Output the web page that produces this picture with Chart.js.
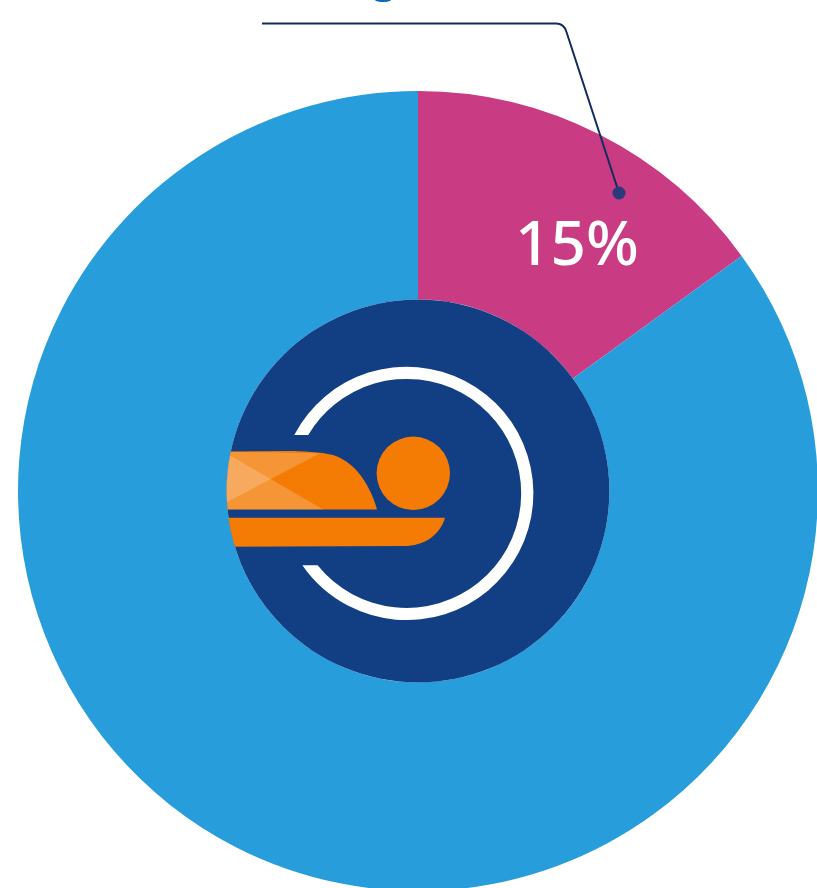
<!DOCTYPE html>
<html>
<head>
<meta charset="utf-8">
<style>
  html, body { margin: 0; padding: 0; background: #fff; overflow: hidden; }
  #frame { position: relative; width: 817px; height: 888px; overflow: hidden; }
  canvas { position: absolute; left: 0; top: 0; }
</style>
<script src="https://cdn.jsdelivr.net/npm/chart.js@4"></script>
</head>
<body>
<div id="frame"><canvas id="ring" width="836" height="982"></canvas></div>
<script>
const categories = ["Highlighted share", "Remaining share"];
const shareValues = [15, 85];
const sliceColours = ["#c93b82", "#289ddb"];

// Hub disc, scanner icon and the callout, all placed relative to the ring centre.
const hubAndCallout = {
  id: "hubAndCallout",
  afterDatasetsDraw(chart) {
    const arc = chart.getDatasetMeta(0).data[0];
    const ctx = chart.ctx;
    const hubRadius = arc.innerRadius;
    ctx.save();
    ctx.translate(arc.x, arc.y);

    // Hub disc
    ctx.fillStyle = "#123e84";
    ctx.beginPath();
    ctx.arc(0, 0, hubRadius, 0, Math.PI * 2);
    ctx.fill();

    // Scanner ring, open on the left with flat horizontal ends
    const cx = -11.3, cy = 2.4, rOut = 126.7, rIn = 114.5;
    const topCut = -56, bottomCut = 74.3;
    const edge = (r, y) => Math.atan2(y - cy, -Math.sqrt(r * r - (y - cy) * (y - cy)));
    ctx.fillStyle = "#ffffff";
    ctx.beginPath();
    ctx.arc(cx, cy, rOut, edge(rOut, topCut), edge(rOut, bottomCut), false);
    ctx.arc(cx, cy, rIn, edge(rIn, bottomCut), edge(rIn, topCut), true);
    ctx.closePath();
    ctx.fill();

    // Patient and table are cropped by the hub edge
    ctx.save();
    ctx.beginPath();
    ctx.arc(0, 0, hubRadius, 0, Math.PI * 2);
    ctx.clip();

    ctx.fillStyle = "#f47b04";
    ctx.beginPath();
    ctx.arc(-4.7, -17.7, 36.7, 0, Math.PI * 2);
    ctx.fill();

    ctx.beginPath();
    ctx.moveTo(-205, -39.3);
    ctx.lineTo(-130, -40);
    ctx.bezierCurveTo(-115, -40, -98, -39, -85, -36);
    ctx.bezierCurveTo(-66, -30, -50, -12, -41, 18.4);
    ctx.lineTo(-205, 18.4);
    ctx.closePath();
    ctx.fill();

    ctx.beginPath();
    ctx.moveTo(-205, 26.7);
    ctx.lineTo(27, 26.7);
    ctx.bezierCurveTo(22, 44, 6, 55, -14, 55);
    ctx.lineTo(-205, 55.7);
    ctx.closePath();
    ctx.fill();

    // Translucent crossed bands over the blanket
    ctx.fillStyle = "rgba(255,255,255,0.2)";
    ctx.beginPath();
    ctx.moveTo(-194.7, -39.3);
    ctx.lineTo(-94.7, 18.4);
    ctx.lineTo(-205, 18.4);
    ctx.closePath();
    ctx.fill();
    ctx.beginPath();
    ctx.moveTo(-98, -37.7);
    ctx.lineTo(-205, 18.4);
    ctx.lineTo(-205, -39.3);
    ctx.lineTo(-194.7, -39.3);
    ctx.closePath();
    ctx.fill();
    ctx.restore();

    // Callout leader with a rounded elbow
    ctx.strokeStyle = "#0f2e5e";
    ctx.lineWidth = 2;
    ctx.beginPath();
    ctx.moveTo(-156, -467.5);
    ctx.lineTo(138, -467.5);
    ctx.quadraticCurveTo(146, -467.5, 148.5, -459);
    ctx.lineTo(201, -298);
    ctx.stroke();
    ctx.fillStyle = "#2b3a7d";
    ctx.beginPath();
    ctx.arc(201, -298, 6.5, 0, Math.PI * 2);
    ctx.fill();

    // Slice value
    ctx.fillStyle = "#ffffff";
    ctx.font = "500 62px 'Noto Sans'";
    ctx.textAlign = "center";
    ctx.textBaseline = "alphabetic";
    ctx.fillText(shareValues[0] + "%", 159, -226);

    // Descender of the heading that runs off the top edge
    ctx.fillStyle = "#0a68c0";
    ctx.font = "700 40px 'Noto Sans'";
    ctx.fillText("g", -33, -498);
    ctx.restore();
  }
};

new Chart(document.getElementById("ring"), {
  type: "doughnut",
  data: {
    labels: categories,
    datasets: [{
      data: shareValues,
      backgroundColor: sliceColours,
      borderWidth: 0
    }]
  },
  options: {
    responsive: false,
    animation: false,
    radius: 400,
    cutout: 200,
    rotation: 0,
    layout: { padding: 0 },
    plugins: { legend: { display: false }, tooltip: { enabled: false } }
  },
  plugins: [hubAndCallout]
});
</script>
</body>
</html>
